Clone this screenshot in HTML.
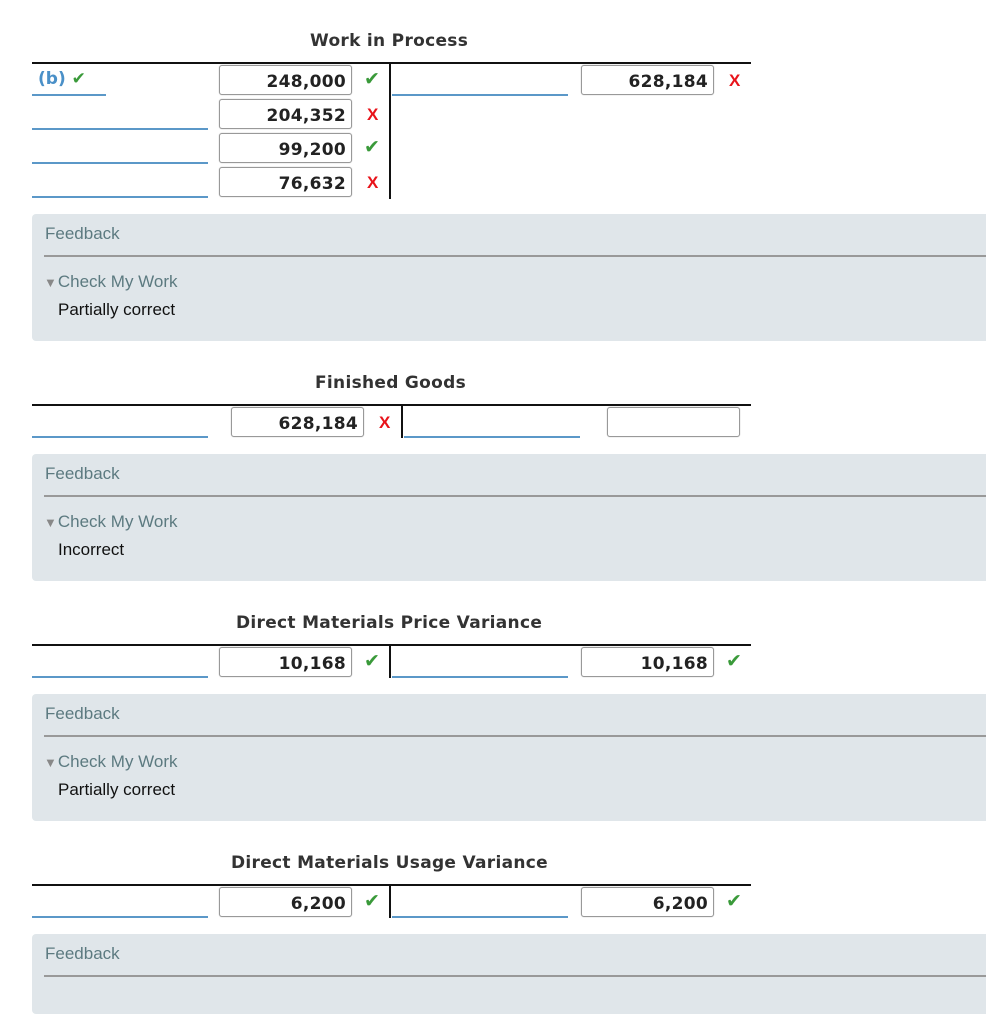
<!DOCTYPE html>
<html><head><meta charset="utf-8">
<style>
body{margin:0;width:986px;height:994px;background:#fff;position:relative;overflow:hidden;font-family:"Liberation Sans",sans-serif}
.a{position:absolute}
.title{position:absolute;font-weight:bold;font-size:17px;color:#333;letter-spacing:0.3px;font-family:"DejaVu Sans","Liberation Sans",sans-serif;transform-origin:left;transform:scaleX(1.0)}
.hl{position:absolute;height:2px;background:#111}
.vl{position:absolute;width:2px;background:#111}
.ul{position:absolute;height:2px;background:#5b98c8}
.box{position:absolute;width:131px;height:28px;border:1px solid #999;border-radius:3px;box-shadow:0 0 1px #aaa;background:#fff;text-align:right;box-sizing:content-box;font-family:"DejaVu Sans","Liberation Sans",sans-serif;font-weight:bold;font-size:17px;color:#222;line-height:33px;letter-spacing:0.3px}
.box span{padding-right:5px}
.ok{position:absolute;color:#3a9a3a;font-size:19px;font-family:"DejaVu Sans",sans-serif}
.no{position:absolute;color:#e8131a;font-size:17px;font-weight:bold;font-family:"Liberation Sans",sans-serif}
.fb{position:absolute;left:32px;width:970px;background:#e0e6ea;border-radius:4px}
.fb .t{position:absolute;left:13px;top:10px;font-size:17px;color:#5c7a80}
.fb .line{position:absolute;left:12px;right:0;top:41px;height:2px;background:#999}
.fb .c{position:absolute;left:12px;top:58px;font-size:17px;color:#5c7a80}
.fb .c i{font-style:normal;font-size:13px;color:#888;margin-right:1px}
.fb .r{position:absolute;left:26px;top:86px;font-size:17px;color:#111}
</style></head><body>

<div class="title" style="left:310px;top:31px">Work in Process</div>
<div class="hl" style="left:32px;top:62px;width:719px"></div>
<div class="vl" style="left:389px;top:62px;height:137px"></div>
<div class="a" style="left:38px;top:69px;font-family:'DejaVu Sans',sans-serif;font-weight:bold;font-size:17px;color:#4a90c8">(b) <span style="color:#3a9a3a">✔</span></div>
<div class="ul" style="left:32px;top:94px;width:74px"></div>
<div class="ul" style="left:32px;top:128px;width:176px"></div>
<div class="ul" style="left:32px;top:162px;width:176px"></div>
<div class="ul" style="left:32px;top:196px;width:176px"></div>
<div class="box" style="left:219px;top:65px"><span>248,000</span></div>
<div class="ok" style="left:364px;top:68px">✔</div>
<div class="box" style="left:219px;top:99px"><span>204,352</span></div>
<div class="no" style="left:367px;top:105px">X</div>
<div class="box" style="left:219px;top:133px"><span>99,200</span></div>
<div class="ok" style="left:364px;top:136px">✔</div>
<div class="box" style="left:219px;top:167px"><span>76,632</span></div>
<div class="no" style="left:367px;top:173px">X</div>
<div class="ul" style="left:392px;top:94px;width:176px"></div>
<div class="box" style="left:581px;top:65px"><span>628,184</span></div>
<div class="no" style="left:729px;top:71px">X</div>

<div class="fb" style="top:214px;height:127px">
<div class="t">Feedback</div><div class="line"></div>
<div class="c"><i>▼</i>Check My Work</div>
<div class="r">Partially correct</div></div>

<div class="title" style="left:315px;top:373px">Finished Goods</div>
<div class="hl" style="left:32px;top:404px;width:719px"></div>
<div class="vl" style="left:401px;top:404px;height:34px"></div>
<div class="ul" style="left:32px;top:436px;width:176px"></div>
<div class="box" style="left:231px;top:407px"><span>628,184</span></div>
<div class="no" style="left:379px;top:413px">X</div>
<div class="ul" style="left:404px;top:436px;width:176px"></div>
<div class="box" style="left:607px;top:407px"></div>

<div class="fb" style="top:454px;height:127px">
<div class="t">Feedback</div><div class="line"></div>
<div class="c"><i>▼</i>Check My Work</div>
<div class="r">Incorrect</div></div>

<div class="title" style="left:236px;top:613px">Direct Materials Price Variance</div>
<div class="hl" style="left:32px;top:644px;width:719px"></div>
<div class="vl" style="left:389px;top:644px;height:34px"></div>
<div class="ul" style="left:32px;top:676px;width:176px"></div>
<div class="box" style="left:219px;top:647px"><span>10,168</span></div>
<div class="ok" style="left:364px;top:650px">✔</div>
<div class="ul" style="left:392px;top:676px;width:176px"></div>
<div class="box" style="left:581px;top:647px"><span>10,168</span></div>
<div class="ok" style="left:726px;top:650px">✔</div>

<div class="fb" style="top:694px;height:127px">
<div class="t">Feedback</div><div class="line"></div>
<div class="c"><i>▼</i>Check My Work</div>
<div class="r">Partially correct</div></div>

<div class="title" style="left:231px;top:853px">Direct Materials Usage Variance</div>
<div class="hl" style="left:32px;top:884px;width:719px"></div>
<div class="vl" style="left:389px;top:884px;height:34px"></div>
<div class="ul" style="left:32px;top:916px;width:176px"></div>
<div class="box" style="left:219px;top:887px"><span>6,200</span></div>
<div class="ok" style="left:364px;top:890px">✔</div>
<div class="ul" style="left:392px;top:916px;width:176px"></div>
<div class="box" style="left:581px;top:887px"><span>6,200</span></div>
<div class="ok" style="left:726px;top:890px">✔</div>

<div class="fb" style="top:934px;height:80px">
<div class="t">Feedback</div><div class="line"></div></div>

</body></html>
